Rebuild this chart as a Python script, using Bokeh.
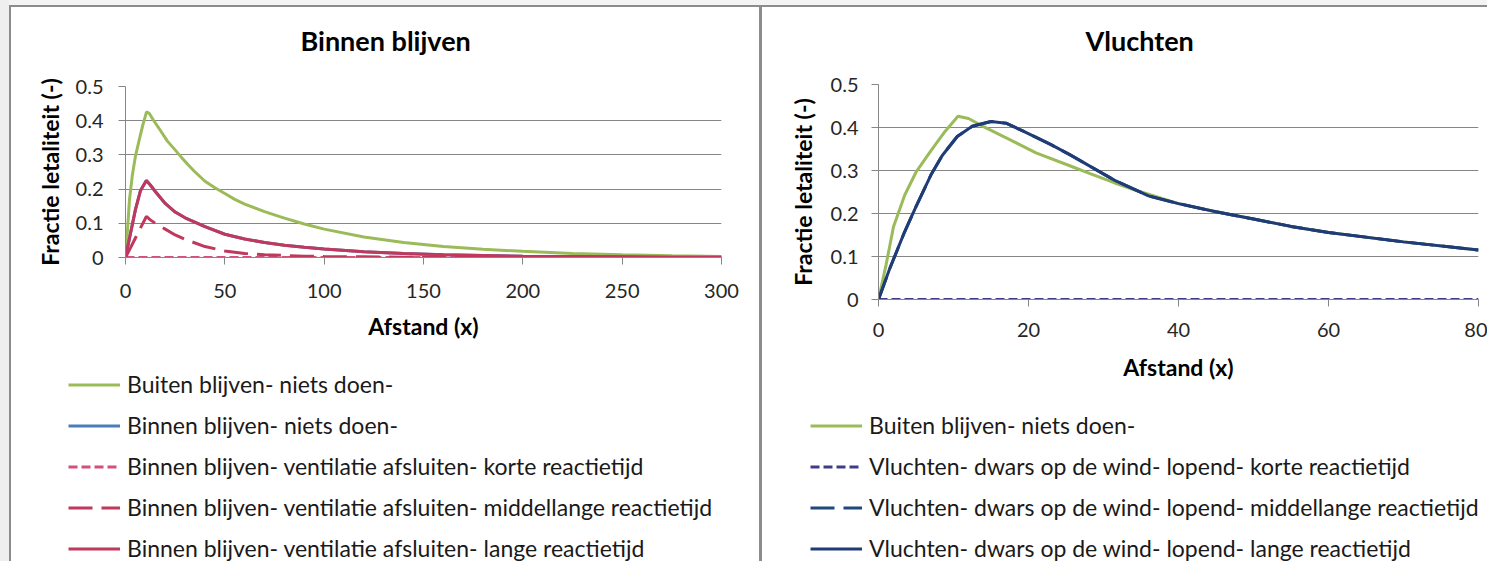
from bokeh.plotting import figure
from bokeh.models import Legend, LegendItem, FixedTicker, Title
from bokeh.layouts import row, column
from bokeh.embed import file_html
from bokeh.resources import INLINE

FONT = "Lato"

# ---------------- data ----------------
# "Buiten blijven- niets doen-" (shown in both panels)
x_buiten = [0, 1, 2, 3.5, 5, 7, 8.7, 10.6, 12, 14, 17.5, 21, 25.5, 28.3, 31.5, 34.5, 40, 45, 50,
            55, 60, 70, 80, 90, 100, 120, 140, 160, 180, 200, 225, 250, 275, 300]
buiten = [0, 0.08, 0.169, 0.243, 0.296, 0.346, 0.387, 0.426, 0.421, 0.402, 0.372, 0.341, 0.311,
          0.292, 0.271, 0.253, 0.223, 0.204, 0.187, 0.17, 0.156, 0.134, 0.115, 0.098, 0.083, 0.06,
          0.044, 0.032, 0.024, 0.018, 0.012, 0.008, 0.005, 0.003]

# Binnen blijven panel
x_binnen = [0, 2.5, 5, 7.5, 10.5, 12.5, 15, 20, 25, 30, 40, 50, 60, 70, 80, 90, 100, 120, 140,
            160, 180, 200, 225, 250, 275, 300]
binnen_lang = [0, 0.07, 0.14, 0.195, 0.225, 0.212, 0.193, 0.158, 0.133, 0.116, 0.09, 0.068, 0.054,
               0.044, 0.036, 0.03, 0.025, 0.017, 0.012, 0.008, 0.006, 0.004, 0.003, 0.002, 0.001,
               0.001]
binnen_niets = [0, 0.07, 0.14, 0.195, 0.225, 0.212, 0.193, 0.158, 0.133, 0.116, 0.09, 0.068, 0.054,
                0.044, 0.036, 0.03, 0.025, 0.017, 0.012, 0.008, 0.006, 0.004, 0.003, 0.002, 0.001,
                0.001]
binnen_middel = [0, 0.028, 0.057, 0.086, 0.12, 0.11, 0.1, 0.083, 0.066, 0.053, 0.032, 0.019, 0.012,
                 0.008, 0.006, 0.004, 0.003, 0.002, 0.001, 0, 0, 0, 0, 0, 0, 0]
binnen_kort = [0] * 26

# Vluchten panel
x_vlucht = [0, 1.5, 3.5, 5, 7, 8.5, 10.5, 12.5, 15, 17, 19.5, 23, 25.5, 28, 31.5, 36, 40, 45, 50,
            55, 60, 70, 80]
vlucht_lang = [0, 0.072, 0.158, 0.216, 0.29, 0.335, 0.379, 0.403, 0.414, 0.41, 0.39, 0.36, 0.337,
               0.312, 0.277, 0.241, 0.223, 0.204, 0.187, 0.17, 0.156, 0.134, 0.115]
vlucht_middel = list(vlucht_lang)
vlucht_kort = [0] * 23

y_ticks = [0, 0.1, 0.2, 0.3, 0.4, 0.5]
y_tick_labels = ["0", "0.1", "0.2", "0.3", "0.4", "0.5"]
x_ticks_binnen = [0, 50, 100, 150, 200, 250, 300]
x_ticks_vlucht = [0, 20, 40, 60, 80]

GREY = "#868686"
BORDER = "#8c8c8c"

C_GREEN = "#9bbb59"
C_BLUE = "#4a7ebb"
C_PINK = "#d2507a"
C_RED = "#c0385c"
C_PURPLE = "#403c8c"
C_NAVY_M = "#1f497d"
C_NAVY = "#203c78"

DASH_SHORT = "9 4"
DASH_LONG = "24 9"


def panel(title, width, height, left, right, top, bottom, xmax, xticks, title_offset, spacer,
          shadow, ylab_off, ylab_std, xlab_off, xlab_std):
    p = figure(width=width, height=height, min_border_left=left, min_border_right=right,
               min_border_top=top, min_border_bottom=bottom, x_range=(0, xmax), y_range=(0, 0.5),
               title=None, output_backend="svg", toolbar_location=None)
    p.frame_align = False
    # spacer between frame and title (closest to the frame), then the title itself
    p.add_layout(Title(text=" ", text_font_size="1px", standoff=spacer), "above")
    p.add_layout(Title(text=title, text_font=FONT, text_font_size="27px", text_font_style="bold",
                       text_color="#000000", align="left", offset=title_offset, standoff=0,
                       vertical_align="bottom"), "above")
    p.outline_line_color = None
    p.background_fill_color = "white"
    p.border_fill_alpha = 0
    p.styles = {"box-shadow": shadow}
    p.xgrid.grid_line_color = None
    p.ygrid.grid_line_color = GREY
    p.ygrid.grid_line_width = 1
    p.yaxis.ticker = FixedTicker(ticks=y_ticks)
    p.yaxis.major_label_overrides = {t: l for t, l in zip(y_ticks, y_tick_labels)}
    p.xaxis.ticker = FixedTicker(ticks=xticks)
    for ax in (p.xaxis[0], p.yaxis[0]):
        ax.axis_line_color = GREY
        ax.major_tick_line_color = GREY
        ax.minor_tick_line_color = None
        ax.major_tick_in = 0
        ax.major_label_text_font = FONT
        ax.major_label_text_font_size = "20px"
        ax.major_label_text_color = "#262626"
        ax.axis_label_text_font = FONT
        ax.axis_label_text_font_size = "23px"
        ax.axis_label_text_font_style = "bold"
        ax.axis_label_text_color = "#000000"
    p.yaxis.major_tick_out = 7
    p.yaxis.major_label_standoff = ylab_off
    p.yaxis.axis_label = "Fractie letaliteit (-)"
    p.yaxis.axis_label_standoff = ylab_std
    p.xaxis.major_tick_out = 7
    p.xaxis.major_label_standoff = xlab_off
    p.xaxis.axis_label = "Afstand (x)"
    p.xaxis.axis_label_standoff = xlab_std
    return p


def legend_fig(width, height, shadow):
    # legend-only canvas; its ranges keep the (real) series out of view
    f = figure(width=width, height=height, min_border=0, x_range=(0, 1), y_range=(10, 11),
               x_axis_type=None, y_axis_type=None, output_backend="svg", toolbar_location=None)
    f.frame_align = False
    f.grid.visible = False
    f.outline_line_color = None
    f.background_fill_alpha = 0
    f.border_fill_alpha = 0
    f.styles = {"box-shadow": shadow}
    return f


def add_legend(f, items, vx, vy):
    leg = Legend(items=items, location=(vx, vy))
    leg.label_text_font = FONT
    leg.label_text_font_size = "23px"
    leg.label_text_color = "#1a1a1a"
    leg.glyph_width = 52
    leg.glyph_height = 41
    leg.label_height = 41
    leg.label_standoff = 7
    leg.spacing = 0
    leg.padding = 0
    leg.margin = 0
    leg.border_line_color = None
    leg.background_fill_alpha = 0
    f.add_layout(leg, "center")


# ---------------- left panel ----------------
p1 = panel("Binnen blijven", 762, 345, 125, 41, 86, 88, 300, x_ticks_binnen, 175, 27,
           f"inset 9px 0 0 #efefef, inset 0 5px 0 #f4f4f4, inset 11px 7px 0 {BORDER}, "
           f"inset -3px 0 0 {BORDER}", 15, 9, 19, 11)
p1.line(x_buiten, buiten, line_color=C_GREEN, line_width=3)
p1.line(x_binnen, binnen_niets, line_color=C_BLUE, line_width=3)
p1.line(x_binnen, binnen_kort, line_color=C_PINK, line_width=3, line_dash=DASH_SHORT)
p1.line(x_binnen, binnen_middel, line_color=C_RED, line_width=3, line_dash=DASH_LONG)
p1.line(x_binnen, binnen_lang, line_color=C_RED, line_width=3)

l1 = legend_fig(762, 216, f"inset 9px 0 0 #efefef, inset 11px 0 0 {BORDER}, "
                          f"inset -3px 0 0 {BORDER}")
k_g = l1.line(x_buiten, buiten, line_color=C_GREEN, line_width=3)
k_b = l1.line(x_binnen, binnen_niets, line_color=C_BLUE, line_width=3)
k_k = l1.line(x_binnen, binnen_kort, line_color=C_PINK, line_width=3, line_dash=DASH_SHORT)
k_m = l1.line(x_binnen, binnen_middel, line_color=C_RED, line_width=3, line_dash=DASH_LONG)
k_l = l1.line(x_binnen, binnen_lang, line_color=C_RED, line_width=3)
add_legend(l1, [
    LegendItem(label="Buiten blijven- niets doen-", renderers=[k_g]),
    LegendItem(label="Binnen blijven- niets doen-", renderers=[k_b]),
    LegendItem(label="Binnen blijven- ventilatie afsluiten- korte reactietijd", renderers=[k_k]),
    LegendItem(label="Binnen blijven- ventilatie afsluiten- middellange reactietijd", renderers=[k_m]),
    LegendItem(label="Binnen blijven- ventilatie afsluiten- lange reactietijd", renderers=[k_l]),
], 68, -7.5)

# ---------------- right panel ----------------
p2 = panel("Vluchten", 725, 385, 116, 9, 84, 86, 80, x_ticks_vlucht, 207, 25,
           f"inset 0 5px 0 #f4f4f4, inset 0 7px 0 {BORDER}", 13, 11, 16, 13)
xb = [x for x in x_buiten if x <= 80]
yb = buiten[:len(xb)]
p2.line(xb, yb, line_color=C_GREEN, line_width=3)
p2.line(x_vlucht, vlucht_middel, line_color=C_NAVY_M, line_width=3, line_dash=DASH_LONG)
p2.line(x_vlucht, vlucht_kort, line_color=C_PURPLE, line_width=3, line_dash=DASH_SHORT)
p2.line(x_vlucht, vlucht_lang, line_color=C_NAVY, line_width=3)

l2 = legend_fig(725, 176, "none")
j_g = l2.line(xb, yb, line_color=C_GREEN, line_width=3)
j_k = l2.line(x_vlucht, vlucht_kort, line_color=C_PURPLE, line_width=3, line_dash=DASH_SHORT)
j_m = l2.line(x_vlucht, vlucht_middel, line_color=C_NAVY_M, line_width=3, line_dash=DASH_LONG)
j_l = l2.line(x_vlucht, vlucht_lang, line_color=C_NAVY, line_width=3)
add_legend(l2, [
    LegendItem(label="Buiten blijven- niets doen-", renderers=[j_g]),
    LegendItem(label="Vluchten- dwars op de wind- lopend- korte reactietijd", renderers=[j_k]),
    LegendItem(label="Vluchten- dwars op de wind- lopend- middellange reactietijd", renderers=[j_m]),
    LegendItem(label="Vluchten- dwars op de wind- lopend- lange reactietijd", renderers=[j_l]),
], 48, -7.5)

layout = row(column(p1, l1), column(p2, l2))
open("out.html", "w").write(file_html(layout, INLINE))
